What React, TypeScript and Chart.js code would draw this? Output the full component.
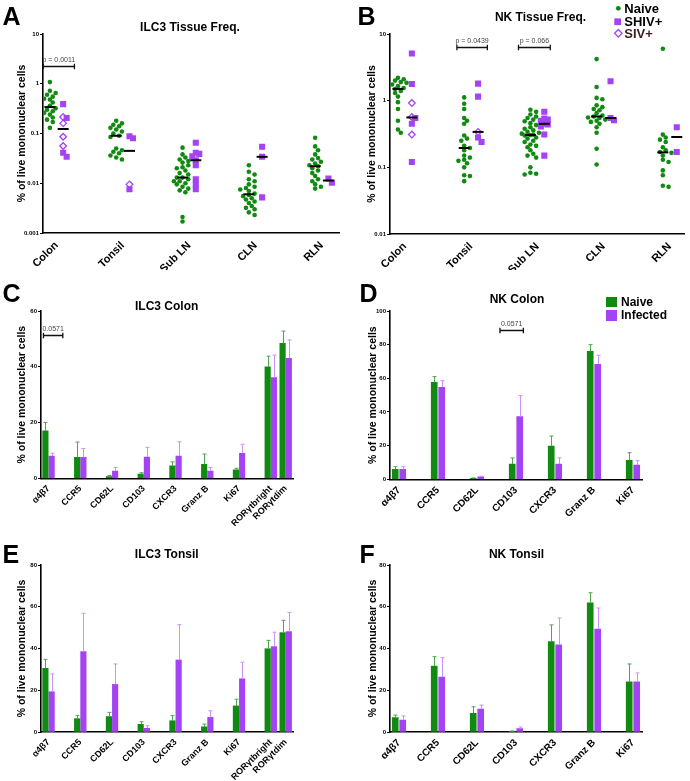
import React, { useEffect, useRef } from 'react';
import { Chart, registerables } from 'chart.js';
Chart.register(...registerables);

// ================= DATA =================
const tissues = ['Colon', 'Tonsil', 'Sub LN', 'CLN', 'RLN'];

const logTicksA = [0.001, 0.01, 0.1, 1, 10];
const logTickLabelsA = ['0.001', '0.01', '0.1', '1', '10'];
const logTicksB = [0.01, 0.1, 1, 10];
const logTickLabelsB = ['0.01', '0.1', '1', '10'];

// Panel A: ILC3 tissue frequency (% of live mononuclear cells), per tissue
const ilc3Naive: number[][] = [
  [1.08, 0.72, 0.65, 0.6, 0.55, 0.5, 0.48, 0.42, 0.36, 0.32, 0.3, 0.28, 0.26, 0.24, 0.21, 0.19, 0.17, 0.13],
  [0.18, 0.16, 0.15, 0.14, 0.13, 0.12, 0.11, 0.1, 0.09, 0.085, 0.05, 0.046, 0.043, 0.04, 0.036, 0.033, 0.03],
  [0.052, 0.038, 0.033, 0.03, 0.028, 0.026, 0.023, 0.021, 0.02, 0.018, 0.016, 0.015, 0.013, 0.013, 0.012, 0.011, 0.011, 0.01, 0.0095, 0.0085, 0.0078, 0.0072, 0.0066, 0.0021, 0.0017],
  [0.023, 0.017, 0.015, 0.012, 0.011, 0.0095, 0.0085, 0.008, 0.0075, 0.007, 0.0062, 0.0058, 0.0055, 0.005, 0.0047, 0.0043, 0.004, 0.0035, 0.0032, 0.003, 0.0026, 0.0023],
  [0.082, 0.055, 0.046, 0.038, 0.032, 0.03, 0.027, 0.025, 0.023, 0.022, 0.02, 0.018, 0.016, 0.014, 0.012, 0.011, 0.0095, 0.0085, 0.0078],
];
const ilc3Shiv: number[][] = [
  [0.39, 0.205, 0.041, 0.034],
  [0.088, 0.08, 0.0076],
  [0.065, 0.041, 0.039, 0.035, 0.029, 0.023, 0.012, 0.0095, 0.0076],
  [0.054, 0.034, 0.0052],
  [0.0125, 0.0102],
];
const ilc3Siv: number[][] = [
  [0.215, 0.16, 0.086, 0.056],
  [0.0095],
  [],
  [],
  [],
];

// Panel B: NK tissue frequency
const nkNaive: number[][] = [
  [2.2, 2.1, 2.0, 1.9, 1.85, 1.75, 1.65, 1.55, 1.5, 1.4, 1.3, 1.15, 0.95, 0.75, 0.5, 0.37, 0.33],
  [1.12, 0.9, 0.75, 0.55, 0.5, 0.45, 0.3, 0.27, 0.25, 0.21, 0.195, 0.18, 0.15, 0.14, 0.13, 0.125, 0.115, 0.1, 0.076, 0.074, 0.062],
  [0.73, 0.68, 0.62, 0.58, 0.55, 0.52, 0.49, 0.46, 0.43, 0.4, 0.38, 0.36, 0.34, 0.33, 0.32, 0.31, 0.305, 0.3, 0.28, 0.27, 0.25, 0.24, 0.22, 0.21, 0.2, 0.18, 0.16, 0.15, 0.14, 0.1, 0.083, 0.08, 0.078],
  [4.2, 1.6, 1.1, 1.05, 0.85, 0.8, 0.75, 0.72, 0.65, 0.6, 0.58, 0.56, 0.55, 0.52, 0.5, 0.48, 0.45, 0.4, 0.33, 0.19, 0.11],
  [6.0, 0.31, 0.28, 0.26, 0.24, 0.2, 0.18, 0.17, 0.165, 0.15, 0.13, 0.12, 0.09, 0.076, 0.053, 0.051],
];
const nkShiv: number[][] = [
  [5.1, 1.78, 0.55, 0.45, 0.12],
  [1.8, 1.15, 0.28, 0.24],
  [0.68, 0.54, 0.52, 0.5, 0.45, 0.44, 0.41, 0.31, 0.15],
  [1.95, 0.55, 0.51],
  [0.4, 0.17],
];
const nkSiv: number[][] = [
  [0.92, 0.57, 0.31],
  [0.34],
  [],
  [],
  [],
];

// Significance annotations: [fromX, toX, y, label]
const bracketsA: [number, number, number, string][] = [[-0.1, 0.37, 2.3, 'p = 0.0011']];
const bracketsB: [number, number, number, string][] = [
  [0.89, 1.35, 6.4, 'p = 0.0439'],
  [1.82, 2.3, 6.4, 'p = 0.066'],
];
const bracketsC: [number, number, number, string][] = [[-0.16, 0.45, 51.4, '0.0571']];
const bracketsD: [number, number, number, string][] = [[2.59, 3.19, 88.7, '0.0571']];

// Bar panels
const ilc3Markers = ['α4β7', 'CCR5', 'CD62L', 'CD103', 'CXCR3', 'Granz B', 'Ki67', 'RORγtbright', 'RORγtdim'];
const nkMarkers = ['α4β7', 'CCR5', 'CD62L', 'CD103', 'CXCR3', 'Granz B', 'Ki67'];

const ilc3ColonNaive = [17.0, 7.5, 0.6, 1.5, 4.5, 5.0, 3.0, 40.0, 48.4];
const ilc3ColonNaiveSem = [3.0, 5.5, 0.4, 0.5, 1.4, 3.7, 0.6, 3.8, 4.4];
const ilc3ColonInf = [8.0, 7.5, 2.6, 7.6, 8.0, 2.6, 9.0, 36.1, 43.0];
const ilc3ColonInfSem = [1.0, 3.2, 1.3, 3.5, 5.1, 1.3, 3.2, 8.1, 6.6];

const nkColonNaive = [5.9, 57.6, 0.6, 9.1, 19.8, 76.0, 11.3];
const nkColonNaiveSem = [1.6, 3.4, 0.2, 3.6, 5.9, 4.0, 4.5];
const nkColonInf = [5.9, 54.7, 1.4, 37.2, 9.1, 68.3, 8.5];
const nkColonInfSem = [1.6, 3.9, 0.4, 12.5, 3.7, 5.4, 2.6];

const ilc3TonsilNaive = [30.5, 6.4, 7.4, 3.7, 5.4, 2.5, 12.5, 39.9, 47.6];
const ilc3TonsilNaiveSem = [4.3, 1.4, 2.0, 1.2, 2.4, 1.3, 3.2, 4.0, 5.9];
const ilc3TonsilInf = [19.3, 38.5, 22.8, 1.8, 34.5, 7.0, 25.5, 40.9, 48.1];
const ilc3TonsilInfSem = [8.5, 18.4, 9.8, 1.2, 16.9, 3.2, 7.9, 6.9, 9.2];

const nkTonsilNaive = [6.9, 31.6, 8.95, 0.3, 43.3, 61.9, 24.0];
const nkTonsilNaiveSem = [1.2, 4.5, 3.15, 0.2, 8.0, 4.8, 8.6];
const nkTonsilInf = [5.75, 26.3, 11.0, 1.6, 41.8, 49.3, 24.0];
const nkTonsilInfSem = [1.95, 9.3, 1.9, 0.8, 12.8, 10.1, 4.3];

const yTicksC = [0, 20, 40, 60];
const yTicksD = [0, 20, 40, 60, 80, 100];
const yTicksEF = [0, 20, 40, 60, 80];

// ================= STYLE / LAYOUT =================
const FONT = "'Liberation Sans', Arial, Helvetica, sans-serif";
const GREEN = '#108a10';
const PURPLE = '#a443f3';
const GREEN_ERR = '#4fa44f';
const PURPLE_ERR = '#c893f7';
const Y_TITLE = '% of live mononuclear cells';

// slot positions (GraphPad groups RORγt bright/dim adjacent)
const ilc3Slots = [0, 1, 2, 3, 4, 5, 6, 7, 7.47];
const nkSlots = [0, 1, 2, 3, 4, 5, 6];

Chart.defaults.font.family = FONT;

function median(vals: number[]): number {
  const s = [...vals].sort((a, b) => a - b);
  const n = s.length;
  return n % 2 ? s[(n - 1) / 2] : (s[n / 2 - 1] + s[n / 2]) / 2;
}

// compact beeswarm: horizontal offsets (x units) limiting overlap
function swarm(values: number[], pxPerUnit: number, pxPerDecade: number, diam: number, step: number, maxSteps: number): number[] {
  const order = values.map((_, i) => i).sort((a, b) => values[b] - values[a]);
  const placed: { x: number; y: number }[] = [];
  const offs = new Array(values.length).fill(0);
  for (const i of order) {
    const y = Math.log10(values[i]) * pxPerDecade;
    let best = 0;
    let bestD = -1;
    for (let k = 0; k <= maxSteps * 2; k++) {
      const cand = k === 0 ? 0 : (k % 2 ? 1 : -1) * Math.ceil(k / 2) * step;
      let dmin = Infinity;
      for (const p of placed) dmin = Math.min(dmin, Math.hypot(p.x - cand, p.y - y));
      if (dmin >= diam) { best = cand; bestD = dmin; break; }
      if (dmin > bestD + 0.5) { best = cand; bestD = dmin; }
    }
    placed.push({ x: best, y });
    offs[i] = best / pxPerUnit;
  }
  return offs;
}

type Area = { left: number; top: number; right: number; bottom: number };

function bracketDraw(chart: any, brackets: [number, number, number, string][]) {
  const ctx = chart.ctx;
  const xs = chart.scales.x;
  const ys = chart.scales.y;
  ctx.save();
  for (const [a, b, v, label] of brackets) {
    const x1 = xs.getPixelForValue(a);
    const x2 = xs.getPixelForValue(b);
    const y = Math.round(ys.getPixelForValue(v)) + 0.5;
    ctx.strokeStyle = '#111';
    ctx.lineWidth = 1.3;
    ctx.beginPath();
    ctx.moveTo(x1, y);
    ctx.lineTo(x2, y);
    ctx.moveTo(x1, y - 2.7);
    ctx.lineTo(x1, y + 2.7);
    ctx.moveTo(x2, y - 2.7);
    ctx.lineTo(x2, y + 2.7);
    ctx.stroke();
    ctx.fillStyle = '#444';
    ctx.font = `7px ${FONT}`;
    ctx.textAlign = 'center';
    ctx.textBaseline = 'middle';
    ctx.fillText(label, (x1 + x2) / 2, y - 6.3);
  }
  ctx.restore();
}

function yTitle(titleX: number) {
  return {
    display: true,
    text: Y_TITLE,
    color: '#000',
    font: { size: 10.5, weight: 'bold' as const, family: FONT, lineHeight: 1.2 },
    padding: { top: titleX - 6.3, bottom: 0 },
  };
}

function scatterConfig(p: {
  naive: number[][]; shiv: number[][]; siv: number[][];
  xMin: number; xMax: number; purpleOff: number;
  yTicks: number[]; yLabels: string[];
  area: Area; W: number; H: number;
  pxPerUnit: number; pxPerDecade: number;
  brackets: [number, number, number, string][]; titleX: number;
}): any {
  const naivePts: any[] = [];
  const shivPts: any[] = [];
  const sivPts: any[] = [];
  tissues.forEach((_, i) => {
    const g = p.naive[i];
    const go = swarm(g, p.pxPerUnit, p.pxPerDecade, 4.0, 2.9, 3);
    g.forEach((v, k) => naivePts.push({ x: i + go[k], y: v }));
    const inf = [...p.shiv[i], ...p.siv[i]];
    const io = swarm(inf, p.pxPerUnit, p.pxPerDecade, 4.5, 3.5, 1);
    p.shiv[i].forEach((v, k) => shivPts.push({ x: i + p.purpleOff + io[k], y: v }));
    p.siv[i].forEach((v, k) => sivPts.push({ x: i + p.purpleOff + io[p.shiv[i].length + k], y: v }));
  });
  const extras = {
    id: 'extrasScatter',
    afterDatasetsDraw(chart: any) {
      const ctx = chart.ctx;
      const xs = chart.scales.x;
      const ys = chart.scales.y;
      ctx.save();
      ctx.strokeStyle = '#000';
      ctx.lineWidth = 2;
      tissues.forEach((_, i) => {
        const groups: [number[], number][] = [
          [p.naive[i], i],
          [[...p.shiv[i], ...p.siv[i]], i + p.purpleOff],
        ];
        for (const [vals, cx] of groups) {
          if (!vals.length) continue;
          const x = xs.getPixelForValue(cx);
          const y = ys.getPixelForValue(median(vals));
          ctx.beginPath();
          ctx.moveTo(x - 5.5, y);
          ctx.lineTo(x + 5.5, y);
          ctx.stroke();
        }
      });
      ctx.restore();
      bracketDraw(chart, p.brackets);
    },
  };
  return {
    type: 'scatter',
    data: {
      datasets: [
        { label: 'Naive', data: naivePts, pointStyle: 'circle', pointRadius: 2.3, backgroundColor: GREEN, borderWidth: 0 },
        { label: 'SHIV+', data: shivPts, pointStyle: 'rect', pointRadius: 4.3, backgroundColor: PURPLE, borderWidth: 0 },
        { label: 'SIV+', data: sivPts, pointStyle: 'rectRot', pointRadius: 3.3, backgroundColor: '#fff', borderColor: PURPLE, borderWidth: 1.3 },
      ],
    },
    options: {
      responsive: false,
      animation: false,
      devicePixelRatio: 1,
      layout: { padding: { top: p.area.top, right: p.W - p.area.right, bottom: 0, left: 0 } },
      plugins: { legend: { display: false }, tooltip: { enabled: false }, title: { display: false } },
      scales: {
        x: {
          type: 'linear',
          min: p.xMin,
          max: p.xMax,
          afterBuildTicks: (s: any) => { s.ticks = tissues.map((_, i) => ({ value: i + p.purpleOff / 2 })); },
          afterFit: (s: any) => { s.height = p.H - p.area.bottom; },
          grid: { display: false, drawTicks: false },
          border: { display: true, color: '#000', width: 1.6 },
          ticks: {
            autoSkip: false, minRotation: 45, maxRotation: 45, padding: 6, color: '#000',
            font: { size: 11, weight: 'bold', family: FONT },
            callback: (_v: any, i: number) => tissues[i],
          },
        },
        y: {
          type: 'logarithmic',
          min: p.yTicks[0],
          max: p.yTicks[p.yTicks.length - 1],
          afterBuildTicks: (s: any) => { s.ticks = p.yTicks.map((v) => ({ value: v })); },
          afterFit: (s: any) => { s.width = p.area.left; },
          grid: { display: true, drawOnChartArea: false, drawTicks: true, tickLength: 3, color: '#000', lineWidth: 1 },
          border: { display: true, color: '#000', width: 1.6 },
          ticks: {
            autoSkip: false, padding: 1, color: '#000',
            font: { size: 6, weight: 'bold', family: FONT },
            callback: (_v: any, i: number) => p.yLabels[i],
          },
          title: yTitle(p.titleX),
        },
      },
    },
    plugins: [extras],
  };
}

function barConfig(p: {
  cats: string[]; slots: number[];
  naive: number[]; naiveSem: number[]; inf: number[]; infSem: number[];
  yTicks: number[]; xMin: number; xMax: number; off: number; barW: number;
  area: Area; W: number; H: number; labelSize: number; titleX: number;
  brackets: [number, number, number, string][];
}): any {
  const extras = {
    id: 'extrasBar',
    afterDatasetsDraw(chart: any) {
      const ctx = chart.ctx;
      const ys = chart.scales.y;
      chart.data.datasets.forEach((ds: any, di: number) => {
        const meta = chart.getDatasetMeta(di);
        meta.data.forEach((el: any, i: number) => {
          const v = ds.data[i].y;
          const e = ds.errors[i];
          const yTop = ys.getPixelForValue(v + e);
          const x = Math.round(el.x) + 0.5;
          ctx.save();
          ctx.strokeStyle = ds.errorColor;
          ctx.lineWidth = 1;
          ctx.beginPath();
          ctx.moveTo(x, el.y);
          ctx.lineTo(x, yTop);
          ctx.moveTo(x - 2, yTop);
          ctx.lineTo(x + 2, yTop);
          ctx.stroke();
          ctx.restore();
        });
      });
      bracketDraw(chart, p.brackets);
    },
  };
  return {
    type: 'bar',
    data: {
      datasets: [
        {
          label: 'Naive', data: p.slots.map((s, i) => ({ x: s - p.off, y: p.naive[i] })),
          backgroundColor: GREEN, barThickness: p.barW, grouped: false, errors: p.naiveSem, errorColor: GREEN_ERR,
        },
        {
          label: 'Infected', data: p.slots.map((s, i) => ({ x: s + p.off, y: p.inf[i] })),
          backgroundColor: PURPLE, barThickness: p.barW, grouped: false, errors: p.infSem, errorColor: PURPLE_ERR,
        },
      ],
    },
    options: {
      responsive: false,
      animation: false,
      devicePixelRatio: 1,
      layout: { padding: { top: p.area.top, right: p.W - p.area.right, bottom: 0, left: 0 } },
      plugins: { legend: { display: false }, tooltip: { enabled: false }, title: { display: false } },
      scales: {
        x: {
          type: 'linear',
          min: p.xMin,
          max: p.xMax,
          offset: false,
          afterBuildTicks: (s: any) => { s.ticks = p.slots.map((v) => ({ value: v })); },
          afterFit: (s: any) => { s.height = p.H - p.area.bottom; },
          grid: { display: false, drawTicks: false },
          border: { display: true, color: '#000', width: 1.6 },
          ticks: {
            autoSkip: false, minRotation: 45, maxRotation: 45, padding: 5, color: '#000',
            font: { size: p.labelSize, weight: 'bold', family: FONT },
            callback: (_v: any, i: number) => p.cats[i],
          },
        },
        y: {
          type: 'linear',
          min: p.yTicks[0],
          max: p.yTicks[p.yTicks.length - 1],
          afterBuildTicks: (s: any) => { s.ticks = p.yTicks.map((v) => ({ value: v })); },
          afterFit: (s: any) => { s.width = p.area.left; },
          grid: { display: true, drawOnChartArea: false, drawTicks: true, tickLength: 3, color: '#000', lineWidth: 1 },
          border: { display: true, color: '#000', width: 1.6 },
          ticks: {
            autoSkip: false, padding: 1, color: '#000',
            font: { size: 6, weight: 'bold', family: FONT },
            callback: (v: any) => String(v),
          },
          title: yTitle(p.titleX),
        },
      },
    },
    plugins: [extras],
  };
}

function ChartPanel(props: { left: number; top: number; width: number; height: number; make: () => any }) {
  const ref = useRef<HTMLCanvasElement>(null);
  useEffect(() => {
    const chart = new Chart(ref.current as HTMLCanvasElement, props.make());
    return () => chart.destroy();
  }, []);
  return (
    <canvas
      ref={ref}
      width={props.width}
      height={props.height}
      style={{ position: 'absolute', left: props.left, top: props.top, width: props.width, height: props.height }}
    />
  );
}

// text positioned by its baseline
function Txt(props: { x: number; base: number; size: number; text: string; align?: 'left' | 'center'; color?: string; weight?: string }) {
  const top = props.base - 0.8465 * props.size;
  const center = props.align === 'center';
  return (
    <div
      style={{
        position: 'absolute',
        left: center ? props.x - 200 : props.x,
        width: center ? 400 : undefined,
        top,
        fontFamily: FONT,
        fontSize: props.size,
        lineHeight: 1,
        fontWeight: (props.weight || 'bold') as any,
        color: props.color || '#000',
        textAlign: center ? 'center' : 'left',
        whiteSpace: 'nowrap',
      }}
    >
      {props.text}
    </div>
  );
}

export default function App() {
  return (
    <div style={{ position: 'absolute', left: 0, top: 0, width: 690, height: 781, background: '#fff', overflow: 'hidden' }}>
      <ChartPanel
        left={0} top={0} width={345} height={270}
        make={() => scatterConfig({
          naive: ilc3Naive, shiv: ilc3Shiv, siv: ilc3Siv,
          xMin: -0.104, xMax: 4.37, purpleOff: 0.2,
          yTicks: logTicksA, yLabels: logTickLabelsA,
          area: { left: 43, top: 34, right: 343, bottom: 233 }, W: 345, H: 270,
          pxPerUnit: 67, pxPerDecade: 50, brackets: bracketsA, titleX: 21.7,
        })}
      />
      <ChartPanel
        left={345} top={0} width={345} height={270}
        make={() => scatterConfig({
          naive: nkNaive, shiv: nkShiv, siv: nkSiv,
          xMin: -0.12, xMax: 4.33, purpleOff: 0.21,
          yTicks: logTicksB, yLabels: logTickLabelsB,
          area: { left: 45, top: 34, right: 343, bottom: 234 }, W: 345, H: 270,
          pxPerUnit: 67, pxPerDecade: 66.7, brackets: bracketsB, titleX: 26.7,
        })}
      />
      <ChartPanel
        left={0} top={270} width={345} height={260}
        make={() => barConfig({
          cats: ilc3Markers, slots: ilc3Slots,
          naive: ilc3ColonNaive, naiveSem: ilc3ColonNaiveSem, inf: ilc3ColonInf, infSem: ilc3ColonInfSem,
          yTicks: yTicksC, xMin: -0.237, xMax: 7.7, off: 0.098, barW: 5.5,
          area: { left: 41, top: 41, right: 293, bottom: 208.3 }, W: 345, H: 260, labelSize: 9, titleX: 21.7,
          brackets: bracketsC,
        })}
      />
      <ChartPanel
        left={345} top={270} width={345} height={260}
        make={() => barConfig({
          cats: nkMarkers, slots: nkSlots,
          naive: nkColonNaive, naiveSem: nkColonNaiveSem, inf: nkColonInf, infSem: nkColonInfSem,
          yTicks: yTicksD, xMin: -0.23, xMax: 6.25, off: 0.096, barW: 6,
          area: { left: 45, top: 41, right: 297.7, bottom: 209.3 }, W: 345, H: 260, labelSize: 10, titleX: 28,
          brackets: bracketsD,
        })}
      />
      <ChartPanel
        left={0} top={530} width={345} height={251}
        make={() => barConfig({
          cats: ilc3Markers, slots: ilc3Slots,
          naive: ilc3TonsilNaive, naiveSem: ilc3TonsilNaiveSem, inf: ilc3TonsilInf, infSem: ilc3TonsilInfSem,
          yTicks: yTicksEF, xMin: -0.237, xMax: 7.7, off: 0.098, barW: 5.5,
          area: { left: 41, top: 35, right: 293, bottom: 202 }, W: 345, H: 251, labelSize: 9, titleX: 21.7,
          brackets: [],
        })}
      />
      <ChartPanel
        left={345} top={530} width={345} height={251}
        make={() => barConfig({
          cats: nkMarkers, slots: nkSlots,
          naive: nkTonsilNaive, naiveSem: nkTonsilNaiveSem, inf: nkTonsilInf, infSem: nkTonsilInfSem,
          yTicks: yTicksEF, xMin: -0.23, xMax: 6.25, off: 0.096, barW: 6,
          area: { left: 45, top: 35, right: 297.7, bottom: 202 }, W: 345, H: 251, labelSize: 10, titleX: 28.3,
          brackets: [],
        })}
      />

      {/* panel letters */}
      <Txt x={2.5} base={25} size={25} text="A" />
      <Txt x={357.5} base={25} size={25} text="B" />
      <Txt x={2.5} base={301.7} size={25} text="C" />
      <Txt x={359.5} base={301.7} size={25} text="D" />
      <Txt x={2.5} base={563.3} size={25} text="E" />
      <Txt x={359.5} base={563.3} size={25} text="F" />

      {/* titles */}
      <Txt x={190} base={31.5} size={12} text="ILC3 Tissue Freq." align="center" />
      <Txt x={540.5} base={20.7} size={12} text="NK Tissue Freq." align="center" />
      <Txt x={166.7} base={310} size={12} text="ILC3 Colon" align="center" />
      <Txt x={517} base={303.3} size={12} text="NK Colon" align="center" />
      <Txt x={166.7} base={557.7} size={12} text="ILC3 Tonsil" align="center" />
      <Txt x={516.5} base={557.7} size={12} text="NK Tonsil" align="center" />

      {/* legend B */}
      <svg style={{ position: 'absolute', left: 610, top: 0 }} width={16} height={42}>
        <circle cx={8.3} cy={8.3} r={2.4} fill={GREEN} />
        <rect x={4.3} y={18.4} width={6.7} height={6.7} fill={PURPLE} />
        <polygon points="8.3,29.5 12,33.3 8.3,37.1 4.6,33.3" fill="#fff" stroke={PURPLE} strokeWidth={1.3} />
      </svg>
      <Txt x={624.3} base={12.7} size={13} text="Naive" />
      <Txt x={624.3} base={26} size={13} text="SHIV+" />
      <Txt x={624.3} base={38.3} size={13} text="SIV+" color="#3a1c1c" />

      {/* legend D */}
      <div style={{ position: 'absolute', left: 605.7, top: 296.7, width: 11, height: 10.6, background: GREEN }} />
      <div style={{ position: 'absolute', left: 605.7, top: 310, width: 11, height: 10.7, background: PURPLE }} />
      <Txt x={621} base={306} size={12} text="Naive" />
      <Txt x={621} base={319.3} size={12} text="Infected" />
    </div>
  );
}
